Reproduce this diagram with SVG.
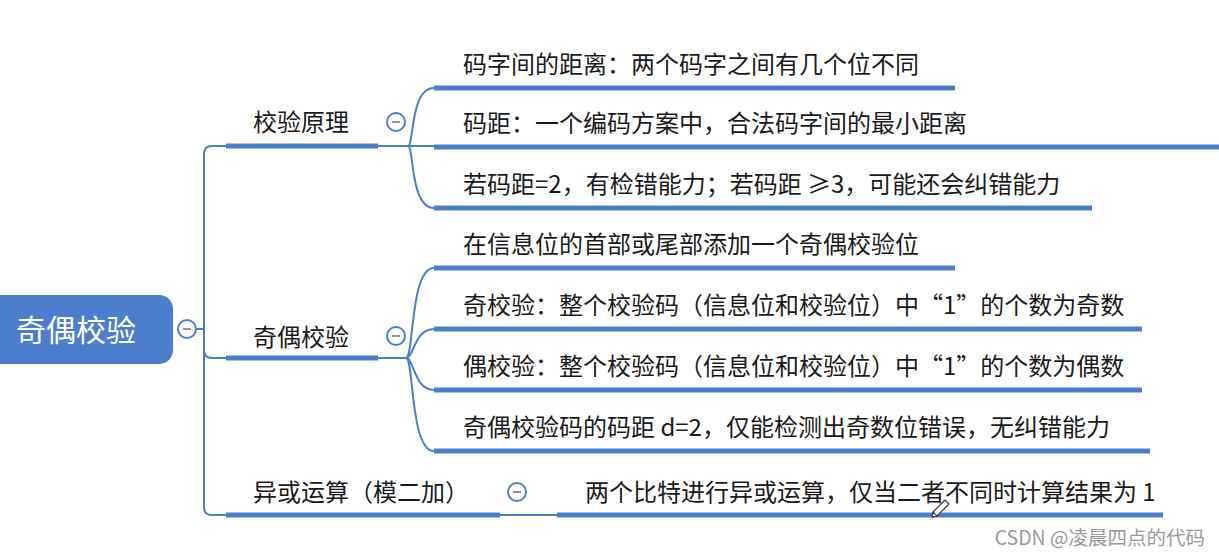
<svg xmlns="http://www.w3.org/2000/svg" width="1219" height="555" viewBox="0 0 1219 555">
<style>
.bar{stroke:#4a7fcc;stroke-width:5;fill:none}
.ln{stroke:#4a7fcc;stroke-width:2;fill:none}
.t{font-family:"Noto Sans CJK SC","Noto Sans",sans-serif;font-size:24px;fill:#1a1a1a}
.c{fill:#fff;stroke:#4a7fcc;stroke-width:2}
.m{stroke:#8a93a8;stroke-width:2}
</style>
<rect width="1219" height="555" fill="#fff"/>
<g id="connectors">
<path class="ln" d="M196 329 H204"/>
<path class="ln" d="M226 146 H212 Q204 146 204 154 V507 Q204 515 212 515 H226"/>
<path class="ln" d="M204 350 Q204 358 212 358 H226"/>
<path class="ln" d="M378 146 H410"/>
<path class="ln" d="M408 146 C414 146 410 88 434 88"/>
<path class="ln" d="M408 146 H434"/>
<path class="ln" d="M408 146 C414 146 410 208 434 208"/>
<path class="ln" d="M378 358 H408"/>
<path class="ln" d="M406 358 C414 358 410 268 434 268"/>
<path class="ln" d="M406 358 C414 358 414 329 434 329"/>
<path class="ln" d="M406 358 C414 358 414 390 434 390"/>
<path class="ln" d="M406 358 C414 358 410 451 434 451"/>
<path class="ln" d="M500 515 H557"/>
</g>
<g id="root">
<rect x="-20" y="295" width="193" height="69" rx="14" fill="#4b7fcd"/>
<text x="76" y="341" text-anchor="middle" font-family="Noto Sans CJK SC,sans-serif" font-size="30" fill="#fff">奇偶校验</text>
<circle class="c" cx="187" cy="329" r="9"/><path class="m" d="M183 329 H191"/>
</g>
<g id="n1">
<path class="bar" d="M226 146 H378"/>
<text class="t" x="253" y="131">校验原理</text>
<circle class="c" cx="396" cy="122" r="9"/><path class="m" d="M392 122 H400"/>
</g>
<g id="n1a"><path class="bar" d="M434 88 H955"/><text class="t" x="463" y="73">码字间的距离：两个码字之间有几个位不同</text></g>
<g id="n1b"><path class="bar" d="M434 147 H1219"/><text class="t" x="463" y="132">码距：一个编码方案中，合法码字间的最小距离</text></g>
<g id="n1c"><path class="bar" d="M434 208 H1092"/><text class="t" x="463" y="193">若码距=2，有检错能力；若码距 ≥3，可能还会纠错能力</text></g>
<g id="n2">
<path class="bar" d="M226 358 H378"/>
<text class="t" x="253" y="346">奇偶校验</text>
<circle class="c" cx="396" cy="336" r="9"/><path class="m" d="M392 336 H400"/>
</g>
<g id="n2a"><path class="bar" d="M434 268 H955"/><text class="t" x="463" y="253">在信息位的首部或尾部添加一个奇偶校验位</text></g>
<g id="n2b"><path class="bar" d="M434 329 H1142"/><text class="t" x="463" y="314">奇校验：整个校验码（信息位和校验位）中“1”的个数为奇数</text></g>
<g id="n2c"><path class="bar" d="M434 390 H1142"/><text class="t" x="463" y="375">偶校验：整个校验码（信息位和校验位）中“1”的个数为偶数</text></g>
<g id="n2d"><path class="bar" d="M434 451 H1150"/><text class="t" x="463" y="436">奇偶校验码的码距 d=2，仅能检测出奇数位错误，无纠错能力</text></g>
<g id="n3">
<path class="bar" d="M226 515 H500"/>
<text class="t" x="253" y="501">异或运算（模二加）</text>
<circle class="c" cx="517" cy="492" r="9"/><path class="m" d="M513 492 H521"/>
</g>
<g id="n3a"><path class="bar" d="M557 515 H1163"/><text class="t" x="585" y="501">两个比特进行异或运算，仅当二者不同时计算结果为 1</text></g>
<path d="M933 512 L945 500 L949 504 L937 516 Z M933 512 L932 517 L937 516" fill="#fff" stroke="#333" stroke-width="1.2"/>
<text x="1205" y="545" text-anchor="end" font-family="Noto Sans CJK SC,sans-serif" font-size="19.5" fill="#999">CSDN @凌晨四点的代码</text>
</svg>
